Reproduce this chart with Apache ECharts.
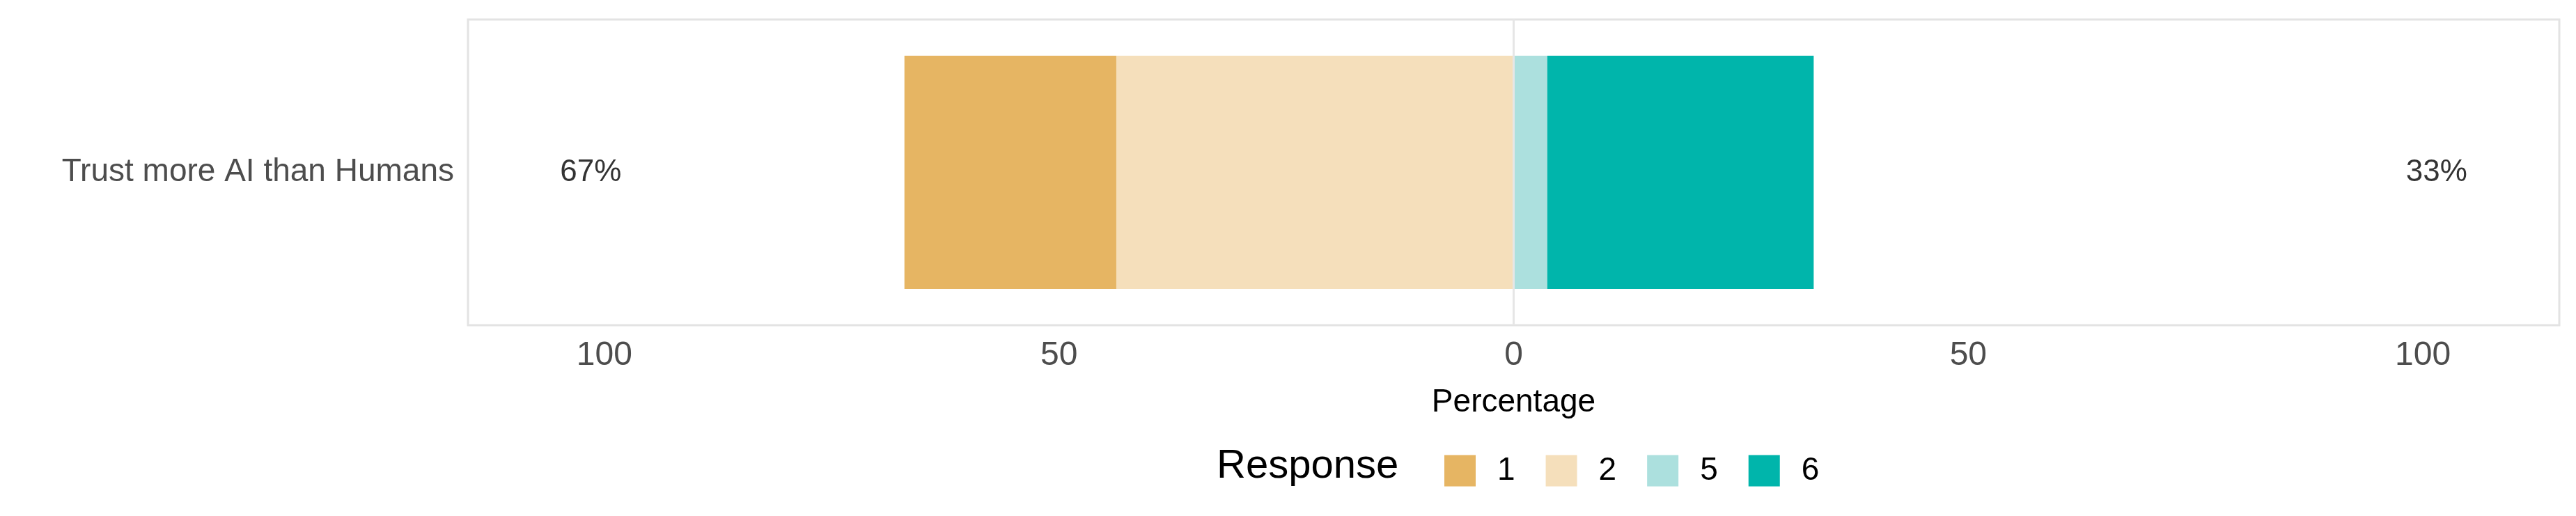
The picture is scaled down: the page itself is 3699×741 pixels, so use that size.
<!DOCTYPE html>
<html>
<head>
<meta charset="utf-8">
<script src="https://cdn.jsdelivr.net/npm/echarts@6/dist/echarts.min.js"></script>
<style>html,body{margin:0;padding:0;background:#fff}#chart{width:3699px;height:741px}</style>
</head>
<body>
<div id="chart"></div>
<script>
var categories = ['Trust more AI than Humans'];
var resp1 = [23.3];
var resp2 = [43.7];
var resp5 = [3.7];
var resp6 = [29.3];
var leftPct = ['67%'];
var rightPct = ['33%'];
var tickValues = [-100, -50, 0, 50, 100];

var colors = {'1': '#E6B563', '2': '#F5DFBB', '5': '#ACE0DE', '6': '#00B5AB'};
var font = 'Liberation Sans';

var chart = echarts.init(document.getElementById('chart'));
function neg(a) { return a.map(function(v){ return -v; }); }
function bar(name, data) {
	return {name: name, type: 'bar', stack: 'all', data: data, barWidth: 335,
		itemStyle: {color: colors[name]}, emphasis: {disabled: true}};
}
var option = {
	animation: false,
	textStyle: {fontFamily: font},
	title: {text: 'Response', left: 1742, top: 636, textStyle: {fontFamily: font, fontSize: 58, fontWeight: 'normal', color: '#000'}},
	legend: {data: ['1', '2', '5', '6'], left: 2069, top: 648, itemWidth: 45, itemHeight: 45, itemGap: 44,
		icon: 'rect', textStyle: {fontFamily: font, fontSize: 46, color: '#000', padding: [0, 0, 0, 26]}},
	grid: {left: 672, right: 24, top: 28, bottom: 274, show: true, borderColor: '#e3e3e3', borderWidth: 3},
	xAxis: {type: 'value', min: -115, max: 115,
		name: 'Percentage', nameLocation: 'middle', nameGap: 88,
		nameTextStyle: {fontFamily: font, fontSize: 46, color: '#000'},
		axisLine: {show: false}, axisTick: {show: false}, splitLine: {show: false},
		axisLabel: {customValues: tickValues, fontFamily: font, fontSize: 48, color: '#4d4d4d', margin: 20,
			formatter: function(v){ return Math.abs(v); }}},
	yAxis: {type: 'category', data: categories, axisLine: {show: false}, axisTick: {show: false},
		axisLabel: {fontFamily: font, fontSize: 46, color: '#4d4d4d', margin: 20}},
	series: [
		bar('2', neg(resp2)),
		bar('1', neg(resp1)),
		bar('5', resp5),
		bar('6', resp6),
		{type: 'scatter', symbolSize: 0, silent: true,
			data: [[-101.5, categories[0], leftPct[0]], [101.5, categories[0], rightPct[0]]],
			label: {show: true, position: 'inside', fontFamily: font, fontSize: 44, color: '#000',
				formatter: function(p){ return p.data[2]; }},
			markLine: {silent: true, symbol: 'none', label: {show: false},
				lineStyle: {color: '#e6e6e6', width: 3, type: 'solid'}, data: [{xAxis: 0}]}}
	]
};
chart.setOption(option);
</script>
</body>
</html>
